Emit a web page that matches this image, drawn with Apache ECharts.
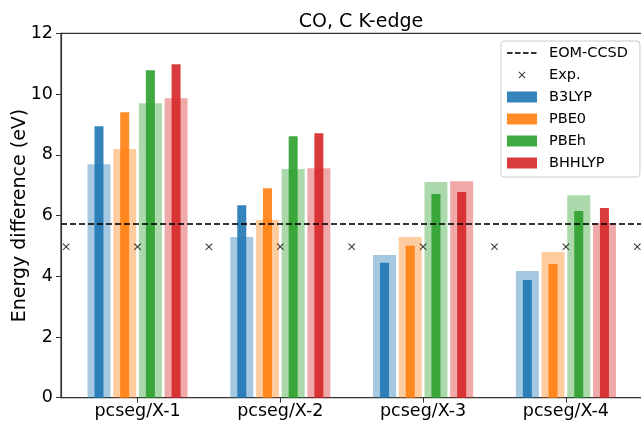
<!DOCTYPE html>
<html>
<head>
<meta charset="utf-8">
<script src="https://cdn.jsdelivr.net/npm/echarts@6/dist/echarts.min.js"></script>
<style>
  html, body { margin: 0; padding: 0; background: #fff; }
  #chart { width: 641px; height: 421px; }
</style>
</head>
<body>
<div id="chart"></div>
<script>
var categories = ['pcseg/X-1', 'pcseg/X-2', 'pcseg/X-3', 'pcseg/X-4'];
var functionals = ['B3LYP', 'PBE0', 'PBEh', 'BHHLYP'];

// wide (pale) bars and narrow (solid) bars, per functional
var b3lypWide    = [7.69, 5.29, 4.70, 4.17];
var b3lypNarrow  = [8.94, 6.34, 4.44, 3.88];
var pbe0Wide     = [8.19, 5.85, 5.29, 4.80];
var pbe0Narrow   = [9.40, 6.90, 5.00, 4.40];
var pbehWide     = [9.70, 7.53, 7.10, 6.67];
var pbehNarrow   = [10.78, 8.61, 6.71, 6.15];
var bhhlypWide   = [9.86, 7.56, 7.13, 5.75];
var bhhlypNarrow = [10.98, 8.71, 6.77, 6.25];

var eomCCSD = 5.72;
var expValue = 4.97;
var expX = [-0.5, 0, 0.5, 1, 1.5, 2, 2.5, 3, 3.5];

var yTicks = [0, 2, 4, 6, 8, 10, 12];

var wideVals = [b3lypWide, pbe0Wide, pbehWide, bhhlypWide];
var narrowVals = [b3lypNarrow, pbe0Narrow, pbehNarrow, bhhlypNarrow];
var rgb = [[31, 119, 180], [255, 127, 14], [44, 160, 44], [214, 39, 40]];
var offsets = [-0.27, -0.09, 0.09, 0.27];

var xMin = -0.536, xMax = 3.54;
var font = 'DejaVu Sans';

var chart = echarts.init(document.getElementById('chart'));

function rgba(c, a) { return 'rgba(' + c[0] + ',' + c[1] + ',' + c[2] + ',' + a + ')'; }

function makeRender(k) {
  return function (params, api) {
    var x = api.value(0);
    var base = api.coord([x, 0]);
    var pw = api.coord([x, api.value(1)]);
    var pn = api.coord([x, api.value(2)]);
    var unit = api.size([1, 0])[0];
    var ww = 0.161 * unit, nw = 0.063 * unit;
    return {
      type: 'group',
      children: [
        { type: 'rect', shape: { x: base[0] - ww / 2, y: pw[1], width: ww, height: base[1] - pw[1] },
          style: { fill: rgba(rgb[k], 0.4) } },
        { type: 'rect', shape: { x: base[0] - nw / 2, y: pn[1], width: nw, height: base[1] - pn[1] },
          style: { fill: rgba(rgb[k], 0.9) } }
      ]
    };
  };
}

var series = [];
series.push({
  name: 'EOM-CCSD',
  type: 'line',
  symbol: 'none',
  silent: true,
  z: 5,
  color: '#333',
  lineStyle: { color: 'rgba(0,0,0,0.8)', width: 2, type: [6, 3] },
  data: [[xMin, eomCCSD], [xMax, eomCCSD]]
});
series.push({
  name: 'Exp.',
  type: 'scatter',
  symbol: 'path://M-3,-3ZM13,13ZM0,1L1,0L5,4L9,0L10,1L6,5L10,9L9,10L5,6L1,10L0,9L4,5Z',
  symbolSize: 11.5,
  symbolKeepAspect: true,
  itemStyle: { color: '#000' },
  z: 6,
  data: expX.map(function (x) { return [x, expValue]; })
});
functionals.forEach(function (name, k) {
  series.push({
    name: name,
    type: 'custom',
    itemStyle: { color: rgba(rgb[k], 0.9) },
    renderItem: makeRender(k),
    encode: { x: 0, y: [1, 2] },
    data: categories.map(function (c, i) {
      return [i + offsets[k], wideVals[k][i], narrowVals[k][i]];
    })
  });
});

var option = {
  animation: false,
  backgroundColor: '#fff',
  title: {
    text: 'CO, C K-edge',
    left: 356,
    textAlign: 'center',
    top: 8,
    textStyle: { fontFamily: font, fontSize: 19, fontWeight: 'normal', color: '#000' }
  },
  legend: {
    orient: 'vertical',
    left: 501,
    top: 41,
    itemWidth: 30,
    itemHeight: 11,
    itemGap: 6,
    padding: [4, 12, 6, 6],
    backgroundColor: 'rgba(255,255,255,0.8)',
    borderColor: '#ccc',
    borderWidth: 1,
    borderRadius: 3,
    textStyle: { fontFamily: font, fontSize: 14.5, color: '#000', lineHeight: 16, padding: [0, 0, 0, 7] },
    data: [
      { name: 'EOM-CCSD', icon: 'path://M0,-4.5ZM30,6.5ZM0,0h5.5v2h-5.5zM8,0h5.5v2h-5.5zM16,0h5.5v2h-5.5zM24,0h5.5v2h-5.5z' },
      { name: 'Exp.' },
      { name: 'B3LYP', icon: 'rect' },
      { name: 'PBE0', icon: 'rect' },
      { name: 'PBEh', icon: 'rect' },
      { name: 'BHHLYP', icon: 'rect' }
    ]
  },
  grid: {
    left: 61, right: -2, top: 33.3, bottom: 23.3,
    outerBoundsMode: 'none',
    show: true, borderColor: '#333', borderWidth: 1.2
  },
  xAxis: {
    type: 'value',
    min: xMin,
    max: xMax,
    splitLine: { show: false },
    axisLine: { show: true, onZero: false, lineStyle: { color: '#333', width: 1.2 } },
    axisTick: { show: true, length: 5, customValues: [0, 1, 2, 3], lineStyle: { color: '#333' } },
    axisLabel: {
      customValues: [0, 1, 2, 3],
      margin: 5,
      fontFamily: font, fontSize: 17.5, color: '#000',
      formatter: function (v) { return categories[Math.round(v)]; }
    }
  },
  yAxis: {
    type: 'value',
    min: 0,
    max: 12,
    interval: 2,
    name: 'Energy difference (eV)',
    nameLocation: 'middle',
    nameGap: 31,
    nameMoveOverlap: false,
    nameTextStyle: { fontFamily: font, fontSize: 19, color: '#000' },
    splitLine: { show: false },
    axisLine: { show: true, onZero: false, lineStyle: { color: '#333', width: 1.2 } },
    axisTick: { show: true, length: 5, lineStyle: { color: '#333' } },
    axisLabel: {
      margin: 8,
      fontFamily: font, fontSize: 17.5, color: '#000',
      formatter: function (v) { return yTicks.indexOf(v) >= 0 ? String(v) : ''; }
    }
  },
  series: series
};

chart.setOption(option);
</script>
</body>
</html>
